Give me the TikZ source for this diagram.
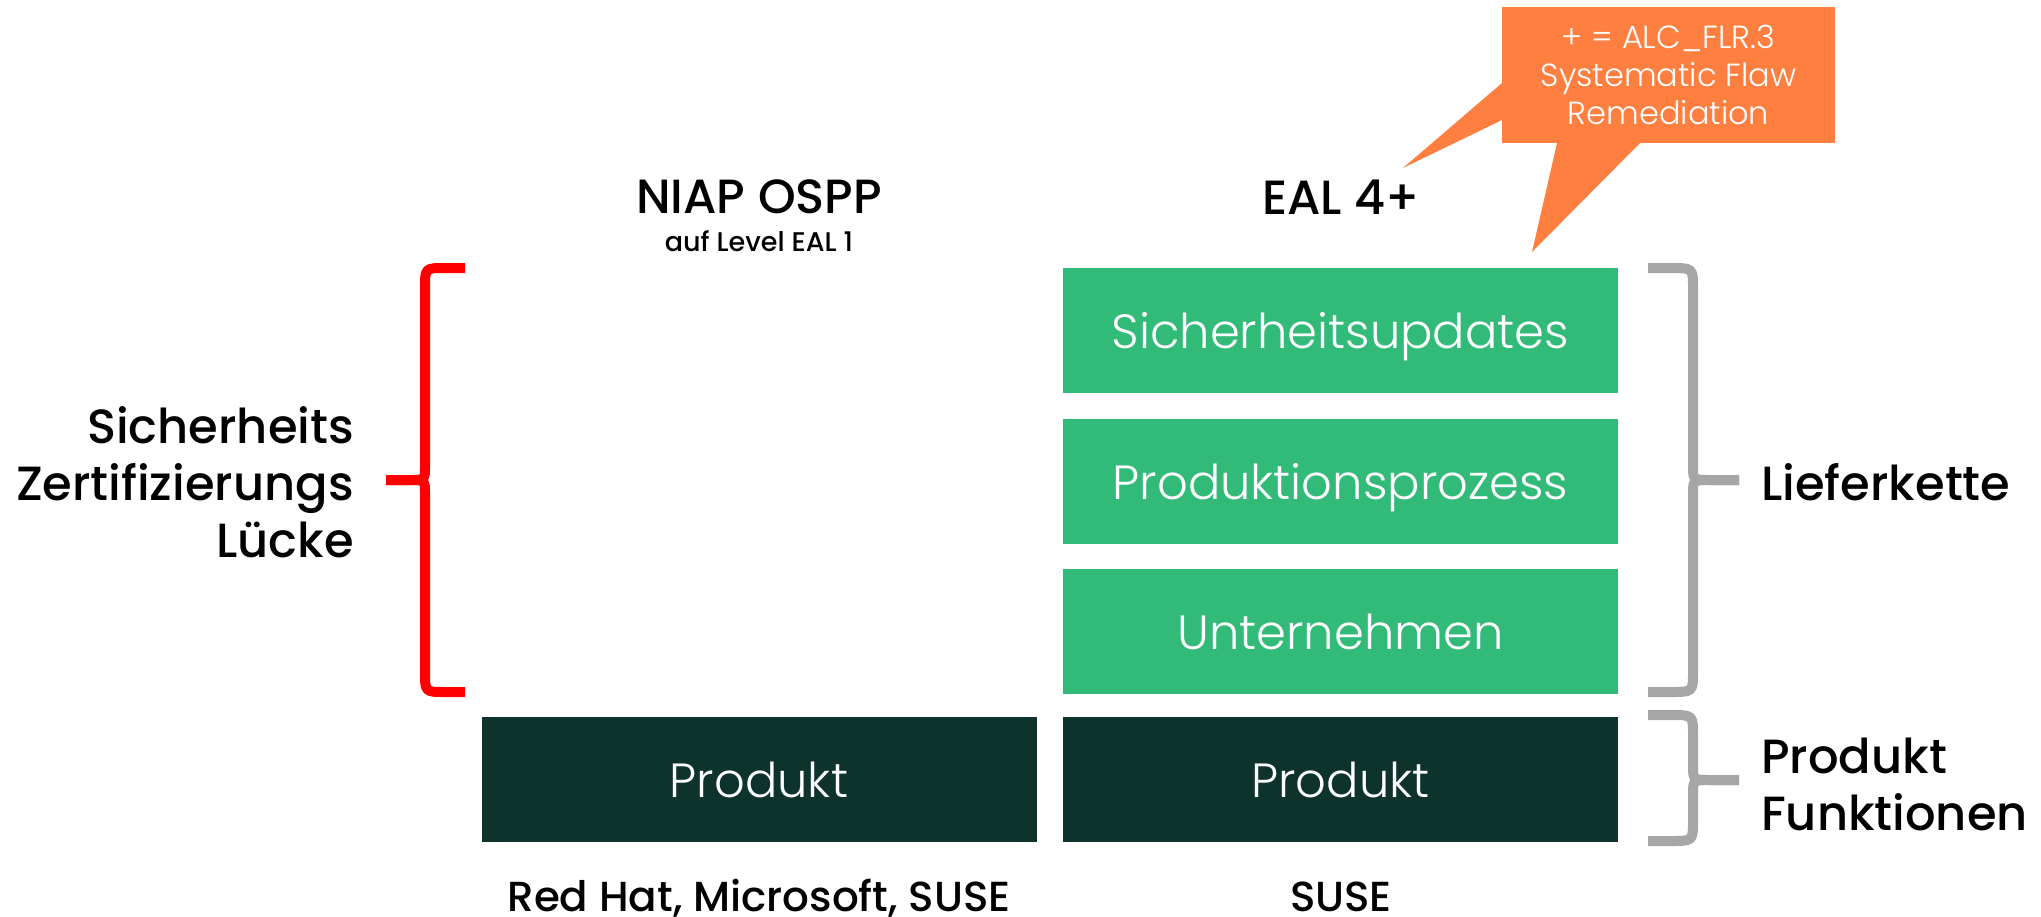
\documentclass[tikz,border=0pt]{standalone}
\usepackage{fontspec}
\setmainfont{Poppins}
\newfontfamily\poplight{Poppins Light}
\newfontfamily\popmed{Poppins Medium}
\definecolor{layergreen}{HTML}{32BB78}
\definecolor{productdark}{HTML}{0E332C}
\definecolor{calloutfill}{HTML}{FF7F41}
\definecolor{gapred}{HTML}{FF0000}
\definecolor{bracegray}{HTML}{A6A6A6}
\tikzset{
  layer/.style={
    fill=layergreen,
    minimum width=555pt,
    minimum height=125pt,
    inner sep=0pt,
    text depth=0pt,
    text=white,
    font=\poplight\fontsize{48}{56}\selectfont
  },
  product/.style={layer, fill=productdark},
  head/.style={font=\popmed\fontsize{48}{56}\selectfont, inner sep=0pt},
  subhead/.style={font=\popmed\fontsize{27}{32}\selectfont, inner sep=0pt},
  vendor/.style={font=\popmed\fontsize{42}{50}\selectfont, inner sep=0pt, anchor=base},
  sidelabel/.style={font=\popmed\fontsize{48}{57}\selectfont, inner sep=0pt},
  callout/.style={
    fill=calloutfill,
    text=white,
    align=center,
    font=\poplight\fontsize{32}{38}\selectfont,
    minimum width=333pt,
    minimum height=136pt,
    inner sep=0pt
  },
  bracestroke/.style={line width=10pt, line join=round}
}
% #1 colour, #2 stem x, #3 arm x, #4 tip x, #5 top y, #6 tip y, #7 bottom y
\newcommand{\curlybrace}[7]{%
  \draw[bracestroke, #1] (#3,#5) -- ({#2+0.5*(#3-#2)},#5) .. controls (#2,#5) .. (#2,{#5+20})
    -- (#2,{#6-14}) .. controls (#2,#6) .. ({#2+0.4*(#4-#2)},#6) -- (#4,#6);
  \draw[bracestroke, #1] (#4,#6) -- ({#2+0.4*(#4-#2)},#6) .. controls (#2,#6) .. (#2,{#6+14})
    -- (#2,{#7-20}) .. controls (#2,#7) .. ({#2+0.5*(#3-#2)},#7) -- (#3,#7);
}

\begin{document}
\begin{tikzpicture}[x=1pt,y=-1pt]
\path[use as bounding box] (0,0) rectangle (2041,917);
\fill[white] (0,0) rectangle (2041,917);

\node[head] (niap) at (759,197) {NIAP OSPP};
\node[subhead] (niapsub) at (759,241) {auf Level EAL 1};
\node[head] (eal) at (1341,197) {EAL 4+};

\node[layer] (upd) at (1340.5,330.5) {Sicherheitsupdates};
\node[layer] (proc) at (1340.5,481.5) {Produktionsprozess};
\node[layer] (corp) at (1340.5,631.5) {Unternehmen};

\node[product] (prodniap) at (759,779.5) {Produkt};
\node[product] (prodeal) at (1340.5,779.5) {Produkt};

\node[vendor] (vendorsniap) at (759,911) {Red Hat, Microsoft, SUSE};
\node[vendor] (vendorseal) at (1341,911) {SUSE};

\node[sidelabel, align=right, anchor=east] (gaplabel) at (354,482) {Sicherheits\\Zertifizierungs\\L\"ucke};
\node[sidelabel, align=left, anchor=west] (chainlabel) at (1761,482) {Lieferkette};
\node[sidelabel, align=left, anchor=west] (funclabel) at (1761,784) {Produkt\\Funktionen};

\curlybrace{gapred}{425}{465}{386}{268}{480}{692}
\curlybrace{bracegray}{1693}{1648}{1739}{268}{480}{692}
\curlybrace{bracegray}{1693}{1648}{1739}{715}{780}{841}

% speech bubble
\fill[calloutfill] (1502,83) -- (1403,168) -- (1502,120) -- cycle;
\fill[calloutfill] (1557,143) -- (1532,252) -- (1640,143) -- cycle;
\node[callout] (flr) at (1668.5,75) {+ = ALC\_FLR.3\\Systematic Flaw\\Remediation};
\end{tikzpicture}
\end{document}
